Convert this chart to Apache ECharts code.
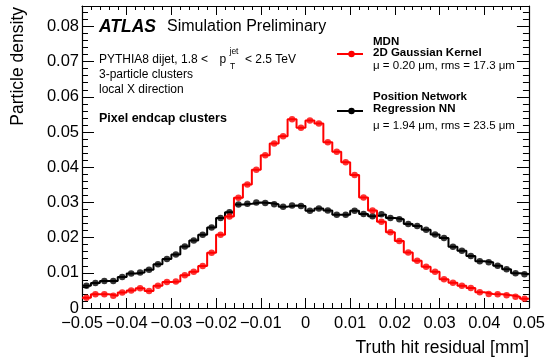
<!DOCTYPE html>
<html><head><meta charset="utf-8">
<script src="https://cdn.jsdelivr.net/npm/echarts@6/dist/echarts.min.js"></script>
<style>html,body{margin:0;padding:0;background:#fff}#c{width:548px;height:359px}</style>
</head><body><div id="c"></div>
<script>
// Histogram binning (50 bins from -0.05 to 0.05 mm)
const binLow = -0.05;
const binWidth = 0.002;

// MDN 2D Gaussian Kernel (red)
const mdnValues = [0.0029, 0.0039, 0.0039, 0.0035, 0.0044, 0.0050, 0.0056, 0.0048, 0.0063, 0.0074,
  0.0075, 0.0093, 0.0103, 0.0119, 0.0157, 0.0208, 0.0260, 0.0313, 0.0351, 0.0393,
  0.0434, 0.0467, 0.0488, 0.0536, 0.0512, 0.0533, 0.0524, 0.0471, 0.0444, 0.0414,
  0.0378, 0.0314, 0.0277, 0.0245, 0.0215, 0.0190, 0.0158, 0.0134, 0.0117, 0.0103,
  0.0082, 0.0072, 0.0063, 0.0057, 0.0045, 0.0040, 0.0039, 0.0036, 0.0032, 0.0026];

// Position Network Regression NN (black)
const nnValues = [0.0063, 0.0071, 0.0077, 0.0077, 0.0088, 0.0098, 0.0101, 0.0109, 0.0124, 0.0139,
  0.0152, 0.0175, 0.0192, 0.0208, 0.0229, 0.0256, 0.0272, 0.0294, 0.0296, 0.0300,
  0.0298, 0.0295, 0.0288, 0.0291, 0.0290, 0.0276, 0.0283, 0.0277, 0.0265, 0.0265,
  0.0276, 0.0267, 0.0261, 0.0266, 0.0256, 0.0252, 0.0239, 0.0233, 0.0222, 0.0209,
  0.0199, 0.0174, 0.0163, 0.0148, 0.0133, 0.0130, 0.0120, 0.0110, 0.0099, 0.0096];

const xTickValues = [-0.05, -0.04, -0.03, -0.02, -0.01, 0, 0.01, 0.02, 0.03, 0.04, 0.05];
const xTickLabels = ['\u22120.05', '\u22120.04', '\u22120.03', '\u22120.02', '\u22120.01', '0', '0.01', '0.02', '0.03', '0.04', '0.05'];
const yTickLabels = ['0', '0.01', '0.02', '0.03', '0.04', '0.05', '0.06', '0.07', '0.08'];

const FONT = '"Liberation Sans", Arial, Helvetica, sans-serif';

function stepData(vals) {
  const d = [];
  vals.forEach((v, i) => { const lo = binLow + i * binWidth; d.push([lo, v], [lo + binWidth, v]); });
  return d;
}
function pointData(vals) {
  return vals.map((v, i) => [binLow + (i + 0.5) * binWidth, v]);
}
function xLabel(v) {
  let best = -1, bd = 1;
  xTickValues.forEach((t, i) => { const d = Math.abs(t - v); if (d < bd) { bd = d; best = i; } });
  if (bd > 1e-6) return '';
  return xTickLabels[best];
}
function yLabel(v) {
  const i = Math.round(v / 0.01);
  if (Math.abs(v - i * 0.01) > 1e-6 || i >= yTickLabels.length) return '';
  return yTickLabels[i];
}

const axisLineStyle = { color: '#000', width: 1.2 };
const chart = echarts.init(document.getElementById('c'), null, { renderer: 'canvas' });
chart.setOption({
  animation: false,
  backgroundColor: '#fff',
  grid: { left: 82, right: 19, top: 6, bottom: 51 },
  xAxis: [
    { type: 'value', min: -0.05, max: 0.05, interval: 0.01, position: 'bottom',
      axisLine: { onZero: false, lineStyle: axisLineStyle },
      axisTick: { inside: true, length: 10, lineStyle: { color: '#000', width: 1 } },
      minorTick: { show: true, splitNumber: 5, length: 5, lineStyle: { color: '#000', width: 1 } },
      splitLine: { show: false }, minorSplitLine: { show: false },
      axisLabel: { margin: 7, formatter: xLabel, color: '#000', fontSize: 16.5, fontFamily: FONT, showMinLabel: true, showMaxLabel: true, hideOverlap: false } },
    { type: 'value', min: -0.05, max: 0.05, interval: 0.01, position: 'top',
      axisLine: { onZero: false, lineStyle: axisLineStyle },
      axisTick: { inside: true, length: 9, lineStyle: { color: '#000', width: 1 } },
      minorTick: { show: true, splitNumber: 5, length: 4, lineStyle: { color: '#000', width: 1 } },
      splitLine: { show: false }, axisLabel: { show: false } }
  ],
  yAxis: [
    { type: 'value', min: 0, max: 0.0858, interval: 0.01, position: 'left',
      axisLine: { onZero: false, lineStyle: axisLineStyle },
      axisTick: { inside: true, length: 12, lineStyle: { color: '#000', width: 1 } },
      minorTick: { show: true, splitNumber: 5, length: 6, lineStyle: { color: '#000', width: 1 } },
      splitLine: { show: false },
      axisLabel: { margin: 3, formatter: yLabel, color: '#000', fontSize: 16.5, fontFamily: FONT, showMinLabel: true, showMaxLabel: false, hideOverlap: false } },
    { type: 'value', min: 0, max: 0.0858, interval: 0.01, position: 'right',
      axisLine: { onZero: false, lineStyle: axisLineStyle },
      axisTick: { inside: true, length: 12, lineStyle: { color: '#000', width: 1 } },
      minorTick: { show: true, splitNumber: 5, length: 6, lineStyle: { color: '#000', width: 1 } },
      splitLine: { show: false }, axisLabel: { show: false } }
  ],
  series: [
    { type: 'line', data: stepData(nnValues), symbol: 'none', lineStyle: { color: '#000', width: 2 }, z: 2 },
    { type: 'scatter', data: pointData(nnValues), symbolSize: 6.5, itemStyle: { color: '#000' }, z: 3 },
    { type: 'line', data: stepData(mdnValues), symbol: 'none', lineStyle: { color: '#ff0000', width: 2 }, z: 4 },
    { type: 'scatter', data: pointData(mdnValues), symbolSize: 6.5, itemStyle: { color: '#ff0000' }, z: 5 }
  ],
  graphic: [
    { type: 'text', x: 18, y: 7, rotation: Math.PI / 2, style: { text: 'Particle density', font: '17.5px ' + FONT, fill: '#000', align: 'right', verticalAlign: 'middle' } },
    { type: 'text', x: 529, y: 348, style: { text: 'Truth hit residual [mm]', font: '17.5px ' + FONT, fill: '#000', align: 'right', verticalAlign: 'middle' } },
    { type: 'text', x: 99, y: 27, style: { text: 'ATLAS', font: 'italic bold 17.5px ' + FONT, fill: '#000', verticalAlign: 'middle' } },
    { type: 'text', x: 167, y: 27, style: { text: 'Simulation Preliminary', font: '16px ' + FONT, fill: '#000', verticalAlign: 'middle' } },
    { type: 'text', x: 99, y: 60, style: { text: 'PYTHIA8 dijet, 1.8 <', font: '12px ' + FONT, fill: '#000', verticalAlign: 'middle' } },
    { type: 'text', x: 219.5, y: 60, style: { text: 'p', font: '12px ' + FONT, fill: '#000', verticalAlign: 'middle' } },
    { type: 'text', x: 229.5, y: 52, style: { text: 'jet', font: '8.5px ' + FONT, fill: '#000', verticalAlign: 'middle' } },
    { type: 'text', x: 230, y: 66.5, style: { text: 'T', font: '8.5px ' + FONT, fill: '#000', verticalAlign: 'middle' } },
    { type: 'text', x: 245, y: 60, style: { text: '< 2.5 TeV', font: '12px ' + FONT, fill: '#000', verticalAlign: 'middle' } },
    { type: 'text', x: 99, y: 75, style: { text: '3-particle clusters', font: '12px ' + FONT, fill: '#000', verticalAlign: 'middle' } },
    { type: 'text', x: 99, y: 90, style: { text: 'local X direction', font: '12px ' + FONT, fill: '#000', verticalAlign: 'middle' } },
    { type: 'text', x: 99, y: 119, style: { text: 'Pixel endcap clusters', font: 'bold 12.5px ' + FONT, fill: '#000', verticalAlign: 'middle' } },
    // legend
    { type: 'line', shape: { x1: 337, y1: 54, x2: 363, y2: 54 }, style: { stroke: '#ff0000', lineWidth: 2 } },
    { type: 'circle', shape: { cx: 351.5, cy: 54, r: 3.2 }, style: { fill: '#ff0000' } },
    { type: 'text', x: 373, y: 41.7, style: { text: 'MDN', font: 'bold 11.5px ' + FONT, fill: '#000', verticalAlign: 'middle' } },
    { type: 'text', x: 373, y: 53.3, style: { text: '2D Gaussian Kernel', font: 'bold 11.5px ' + FONT, fill: '#000', verticalAlign: 'middle' } },
    { type: 'text', x: 373, y: 65.7, style: { text: '\u03bc = 0.20 \u03bcm, rms = 17.3 \u03bcm', font: '11.5px ' + FONT, fill: '#000', verticalAlign: 'middle' } },
    { type: 'line', shape: { x1: 337, y1: 111, x2: 363, y2: 111 }, style: { stroke: '#000', lineWidth: 2 } },
    { type: 'circle', shape: { cx: 351.5, cy: 111, r: 3.2 }, style: { fill: '#000' } },
    { type: 'text', x: 373, y: 97.3, style: { text: 'Position Network', font: 'bold 11.5px ' + FONT, fill: '#000', verticalAlign: 'middle' } },
    { type: 'text', x: 373, y: 109, style: { text: 'Regression NN', font: 'bold 11.5px ' + FONT, fill: '#000', verticalAlign: 'middle' } },
    { type: 'text', x: 373, y: 125.7, style: { text: '\u03bc = 1.94 \u03bcm, rms = 23.5 \u03bcm', font: '11.5px ' + FONT, fill: '#000', verticalAlign: 'middle' } }
  ]
});
</script>
</body></html>
